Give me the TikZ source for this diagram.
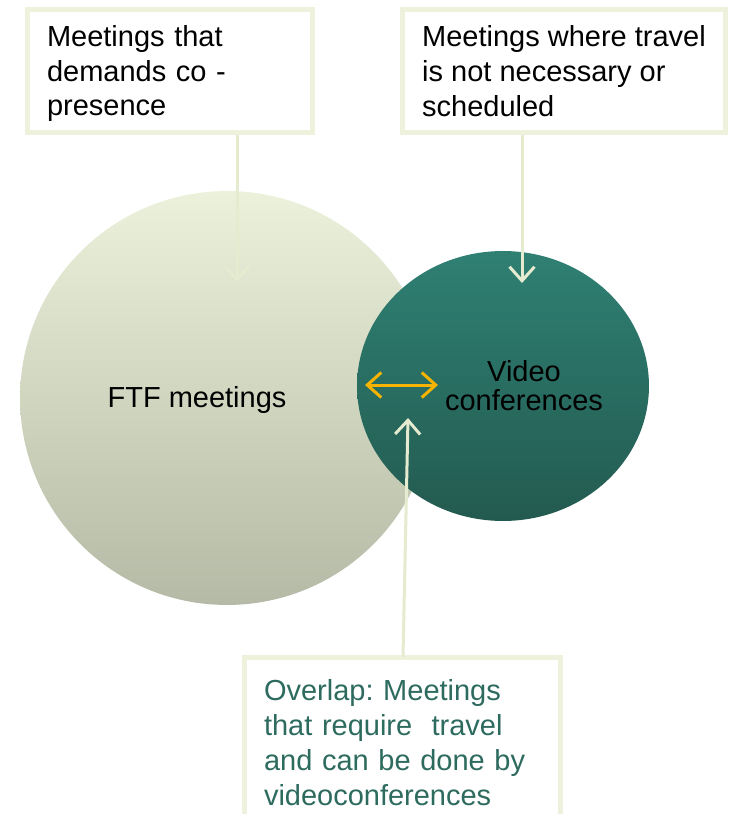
\documentclass[tikz,border=0pt]{standalone}
\usepackage{fontspec}
\setmainfont{Liberation Sans}
\usetikzlibrary{arrows.meta,shapes.geometric}
\tikzset{
  note/.style={
    draw=boxline,
    line width=0.1cm,
    fill=white,
    inner xsep=0.39cm,
    align=left,
    font=\notefont
  },
  pointer/.style={
    draw=arrowline,
    line width=0.06cm,
    -{Straight Barb[length=0.28cm,width=0.5cm,line width=0.06cm]}
  },
  swap-arrow/.style={
    draw=swaporange,
    line width=0.06cm,
    {Straight Barb[length=0.28cm,width=0.5cm,line width=0.06cm]}-{Straight Barb[length=0.28cm,width=0.5cm,line width=0.06cm]}
  },
  label/.style={font=\labelfont, align=center}
}
\definecolor{boxline}{RGB}{238,242,221}
\definecolor{arrowline}{RGB}{229,235,207}
\definecolor{ftftop}{RGB}{236,241,219}
\definecolor{ftfbottom}{RGB}{181,186,166}
\definecolor{vctop}{RGB}{47,128,115}
\definecolor{vcbottom}{RGB}{35,90,80}
\definecolor{overlaptext}{RGB}{46,107,95}
\definecolor{swaporange}{RGB}{246,180,0}
\newcommand{\notefont}{\fontsize{16.5}{19.8}\selectfont\frenchspacing}
\newcommand{\labelfont}{\fontsize{16.5}{16.5}\selectfont}

\begin{document}
\begin{tikzpicture}[x=0.02cm, y=-0.02cm]
  \useasboundingbox (0,0) rectangle (731,814);

  % the two meeting kinds
  \node[circle, minimum size=8.28cm, inner sep=0pt,
        top color=ftftop, bottom color=ftfbottom] (ftf) at (227,398) {};
  \node[ellipse, minimum width=5.84cm, minimum height=5.4cm, inner sep=0pt,
        top color=vctop, bottom color=vcbottom] (vc) at (503,386) {};
  \node[label] (ftf-text) at (197,400) {FTF meetings};
  \node[label] (vc-text) at (524,386) {Video\\conferences};

  % explanation boxes
  \node[note, minimum width=5.7cm, minimum height=2.46cm, text width=4.92cm,
        text depth=40pt]
    (copresence) at (170,71) {Meetings that\\demands co -\\presence};
  \node[note, minimum width=6.46cm, minimum height=2.46cm, text depth=0pt]
    (notravel) at (564,71) {Meetings where travel\\is not necessary or\\scheduled};
  \node[note, minimum width=6.32cm, minimum height=3.4cm, text width=5.54cm,
        text=overlaptext]
    (overlap) at (402.5,742.5) {Overlap: Meetings\\that require \ travel\\and can be done by\\videoconferences};

  % arrow ends
  \coordinate (ftf-tip) at (237,282);
  \coordinate (vc-tip) at (522,283);
  \coordinate (overlap-tip) at (408,418);
  \coordinate (overlap-tail) at (403,657);
  \coordinate (swap-left) at (365,385);
  \coordinate (swap-right) at (438,385);

  \draw[pointer] (copresence.south -| ftf-tip) -- (ftf-tip);
  \draw[pointer] (notravel.south -| vc-tip) -- (vc-tip);
  \draw[pointer] (overlap-tail) -- (overlap-tip);
  \draw[swap-arrow] (swap-left) -- (swap-right);
\end{tikzpicture}
\end{document}
